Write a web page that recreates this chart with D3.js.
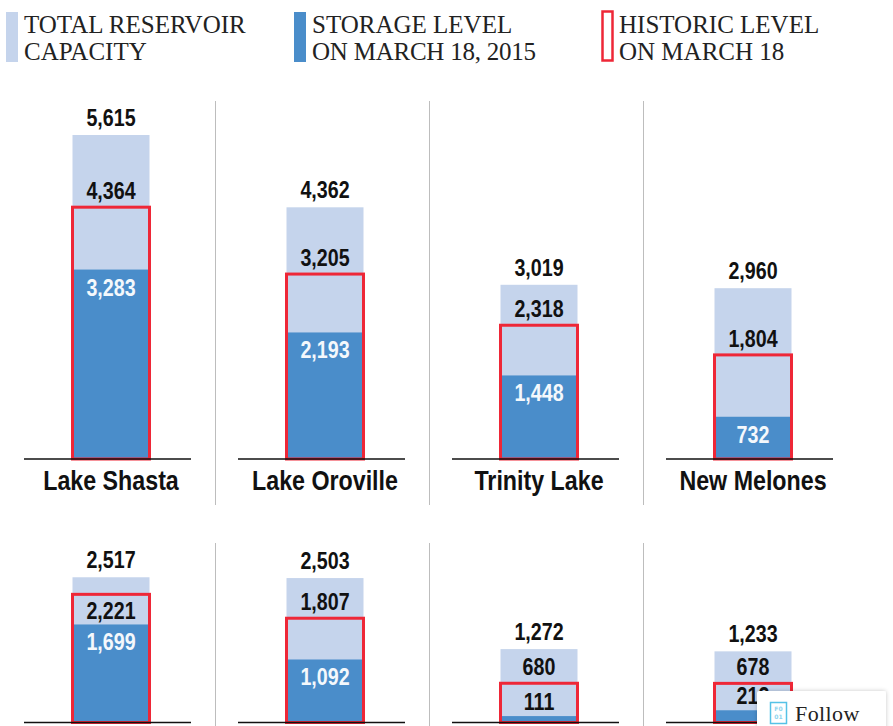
<!DOCTYPE html>
<html>
<head>
<meta charset="utf-8">
<script src="https://cdnjs.cloudflare.com/ajax/libs/d3/7.8.5/d3.min.js"></script>
<style>
html, body { margin: 0; padding: 0; background: #fff; overflow: hidden; }
svg { display: block; }
.value { font-family: "Liberation Sans", sans-serif; font-weight: bold; font-size: 24px; text-anchor: middle; }
.name { font-family: "Liberation Sans", sans-serif; font-weight: bold; font-size: 28px; text-anchor: middle; fill: #111; }
.legend { font-family: "Liberation Serif", serif; font-size: 25px; fill: #222; }
</style>
</head>
<body>
<div id="chart"></div>
<script>
var reservoirs = ["Lake Shasta", "Lake Oroville", "Trinity Lake", "New Melones", "", "", "", ""]
var capacity = [5615, 4362, 3019, 2960, 2517, 2503, 1272, 1233]
var storage = [3283, 2193, 1448, 732, 1699, 1092, 111, 212]
var historic = [4364, 3205, 2318, 1804, 2221, 1807, 680, 678]
var legendLines = [
    ["TOTAL RESERVOIR", "CAPACITY"],
    ["STORAGE LEVEL", "ON MARCH 18, 2015"],
    ["HISTORIC LEVEL", "ON MARCH 18"]
]

var width = 893
var height = 726
var lightBlue = "#c5d4ec"
var blue = "#4a8dca"
var red = "#ee2737"
var barWidth = 75
var rowBase = [459, 722.5]
// the original type is condensed, so squeeze the sans
var narrowValue = "scale(0.82,1)"
var narrowName = "scale(0.83,1)"

var svg = d3.select("#chart").append("svg")
    .attr("width", width)
    .attr("height", height)

var columnX = d3.scaleBand().domain([0, 1, 2, 3]).range([4, 860])
var barHeight = d3.scaleLinear().domain([0, 5615]).range([0, 324])

// legend
var legendX = [24, 312, 619]
var legend = svg.append("g")
var legendItems = legend.selectAll("g").data(legendLines).enter().append("g")
    .attr("transform", function(d, i) {
        return "translate(" + legendX[i] + ",0)"
    })
legendItems.selectAll("text")
    .data(function(d) { return d })
    .enter().append("text")
    .attr("class", "legend")
    .attr("y", function(d, i) { return 33 + i * 27 })
    .attr("textLength", function(d) { return d == "ON MARCH 18, 2015" ? 224 : null })
    .text(function(d) { return d })
legendItems.each(function(d, i) {
    var g = d3.select(this)
    if (i == 2) {
        g.append("rect").attr("x", -16.5).attr("y", 11.5).attr("width", 10).attr("height", 49)
            .attr("fill", "none").attr("stroke", red).attr("stroke-width", 2.5)
    } else {
        g.append("rect").attr("x", -18).attr("y", 12).attr("width", 12).attr("height", 50)
            .attr("fill", i == 0 ? lightBlue : blue)
    }
})

// dividers
var dividers = [[101, 505], [543, 726]]
dividers.forEach(function(d) {
    [1, 2, 3].forEach(function(c) {
        svg.append("line")
            .attr("x1", columnX(c) - 2.5).attr("x2", columnX(c) - 2.5)
            .attr("y1", d[0]).attr("y2", d[1])
            .attr("stroke", "#bdbdbd").attr("stroke-width", 1)
    })
})

var cols = svg.selectAll(".col").data(capacity).enter().append("g")
    .attr("class", "col")
    .attr("transform", function(d, i) {
        var cx = columnX(i % 4) + columnX.bandwidth() / 2
        return "translate(" + cx + "," + rowBase[Math.floor(i / 4)] + ")"
    })

cols.append("rect")
    .attr("x", -barWidth / 2 - 1)
    .attr("width", barWidth + 2)
    .attr("y", function(d) { return -barHeight(d) })
    .attr("height", function(d) { return barHeight(d) })
    .attr("fill", lightBlue)

cols.append("rect")
    .attr("x", -barWidth / 2 - 1)
    .attr("width", barWidth + 2)
    .attr("y", function(d, i) { return -barHeight(storage[i]) })
    .attr("height", function(d, i) { return barHeight(storage[i]) })
    .attr("fill", blue)

cols.append("rect")
    .attr("x", -barWidth / 2 - 1)
    .attr("width", barWidth + 2)
    .attr("y", function(d, i) { return -barHeight(historic[i]) })
    .attr("height", function(d, i) { return barHeight(historic[i]) })
    .attr("fill", "none")
    .attr("stroke", red)
    .attr("stroke-width", 3)

cols.append("line")
    .attr("x1", -87).attr("x2", 80)
    .attr("stroke", "#111").attr("stroke-width", 1.6)

var fmt = d3.format(",")

cols.append("text")
    .attr("class", "value").attr("fill", "#111")
    .attr("transform", narrowValue)
    .attr("y", function(d) { return -barHeight(d) - 9 })
    .text(function(d) { return fmt(d) })

// historic label sits above the red box, or inside it when there is no room
cols.append("text")
    .attr("class", "value").attr("fill", "#111")
    .attr("transform", narrowValue)
    .attr("y", function(d, i) {
        var gap = barHeight(d) - barHeight(historic[i])
        return -barHeight(historic[i]) + (gap < 25 ? 25 : -8)
    })
    .text(function(d, i) { return fmt(historic[i]) })

// storage label goes inside the blue bar, or above it when the bar is too short
cols.append("text")
    .attr("class", "value")
    .attr("fill", function(d, i) { return barHeight(storage[i]) < 25 ? "#111" : "#f4f8fc" })
    .attr("transform", narrowValue)
    .attr("y", function(d, i) {
        var h = barHeight(storage[i])
        return h < 25 ? -h - 6 : -h + 26
    })
    .text(function(d, i) { return fmt(storage[i]) })

cols.append("text")
    .attr("class", "name")
    .attr("transform", narrowName)
    .attr("y", 31)
    .text(function(d, i) { return reservoirs[i] })

// follow button on top of the picture
var defs = svg.append("defs")
var shadow = defs.append("filter").attr("id", "shadow")
    .attr("x", "-20%").attr("y", "-30%").attr("width", "140%").attr("height", "160%")
shadow.append("feDropShadow").attr("dx", 0).attr("dy", 0).attr("stdDeviation", 2)
    .attr("flood-color", "#000").attr("flood-opacity", 0.22)

var follow = svg.append("g")
follow.append("rect")
    .attr("x", 757).attr("y", 691).attr("width", 129).attr("height", 45).attr("rx", 2)
    .attr("fill", "#fff").attr("filter", "url(#shadow)")
follow.append("rect")
    .attr("x", 770.5).attr("y", 702.5).attr("width", 16).attr("height", 21)
    .attr("fill", "none").attr("stroke", "#55c2e6").attr("stroke-width", 1.5)
follow.append("text")
    .attr("x", 778.5).attr("y", 711).attr("text-anchor", "middle")
    .attr("font-family", "DejaVu Sans").attr("font-size", 6).attr("font-weight", "bold").attr("fill", "#8fd5ee")
    .text("F0")
follow.append("text")
    .attr("x", 778.5).attr("y", 719).attr("text-anchor", "middle")
    .attr("font-family", "DejaVu Sans").attr("font-size", 6).attr("font-weight", "bold").attr("fill", "#8fd5ee")
    .text("01")
follow.append("text")
    .attr("x", 795).attr("y", 721)
    .attr("font-family", "Liberation Serif").attr("font-size", 22).attr("letter-spacing", 0.4).attr("fill", "#222")
    .text("Follow")
</script>
</body>
</html>
